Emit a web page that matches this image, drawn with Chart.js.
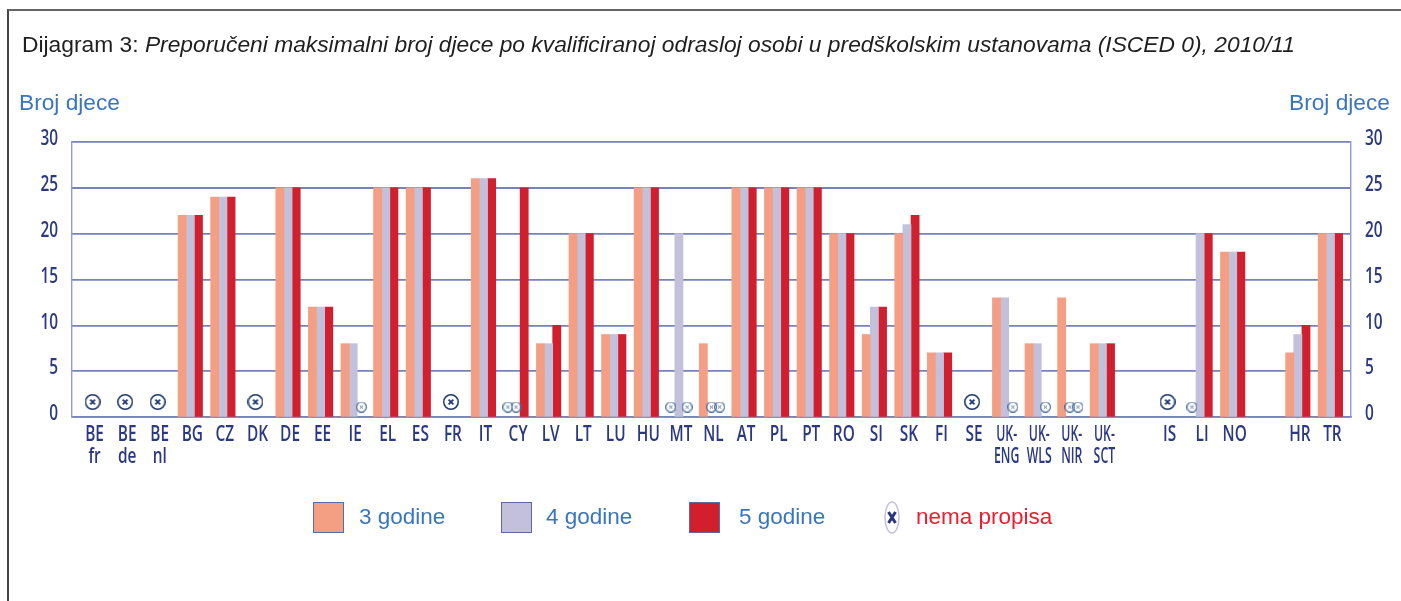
<!DOCTYPE html>
<html>
<head>
  <meta charset="UTF-8" />
  <title>Dijagram 3</title>
  <script src="https://cdn.jsdelivr.net/npm/chart.js"></script>
  <style>
    html, body { margin: 0; padding: 0; background: #fff; overflow: hidden; }
    #wrap { position: relative; width: 1401px; height: 601px; font-family: "Liberation Sans", Arial, sans-serif; }
    #frame { position: absolute; left: 7px; top: 9px; width: 1394px; height: 592px; border-left: 2px solid #444; border-top: 2px solid #666; box-sizing: border-box; }
    #chart { position: absolute; left: 0; top: 0; }
    .txt { position: absolute; white-space: nowrap; }
    #title { left: 22px; top: 31px; font-size: 22.8px; color: #1f1f1f; }
    .axis-name { top: 89px; font-size: 22.7px; color: #3a75bd; }
    .swatch { position: absolute; top: 502px; width: 29px; height: 29px; border: 1px solid #5b6aa5; }
    .leg { top: 504px; font-size: 22.5px; color: #3a75bd; }
  </style>
</head>
<body>
<div id="wrap">
  <div id="frame"></div>
  <canvas id="chart" width="1401" height="601"></canvas>
  <div class="txt" id="title">Dijagram 3: <i>Preporučeni maksimalni broj djece po kvalificiranoj odrasloj osobi u predškolskim ustanovama (ISCED 0), 2010/11</i></div>
  <div class="txt axis-name" style="left:19px">Broj djece</div>
  <div class="txt axis-name" style="left:1289px">Broj djece</div>

  <div class="swatch" style="left:313px;background:#f49f84"></div>
  <div class="txt leg" style="left:359px">3 godine</div>
  <div class="swatch" style="left:501px;background:#c3c0dc"></div>
  <div class="txt leg" style="left:546px">4 godine</div>
  <div class="swatch" style="left:689px;background:#d21f2e"></div>
  <div class="txt leg" style="left:739px">5 godine</div>
  <svg style="position:absolute;left:884px;top:501px" width="16" height="33">
    <ellipse cx="8" cy="16.5" rx="7" ry="15.5" fill="#fff" stroke="#c3c0dc" stroke-width="1.5"/>
    <path d="M4.5 11 L11.5 22 M11.5 11 L4.5 22" stroke="#26377f" stroke-width="3"/>
  </svg>
  <div class="txt leg" style="left:916px;color:#ee1c2e">nema propisa</div>
</div>

<script>
  // one slot per label, empty slots are the gaps before IS and HR
  const slotLabels = [
    ['BE', 'fr'], ['BE', 'de'], ['BE', 'nl'], 'BG', 'CZ', 'DK', 'DE', 'EE', 'IE', 'EL', 'ES', 'FR', 'IT',
    'CY', 'LV', 'LT', 'LU', 'HU', 'MT', 'NL', 'AT', 'PL', 'PT', 'RO', 'SI', 'SK', 'FI', 'SE',
    ['UK-', 'ENG'], ['UK-', 'WLS'], ['UK-', 'NIR'], ['UK-', 'SCT'], '', 'IS', 'LI', 'NO', '', 'HR', 'TR'
  ];
  const tightLabels = ['UK-', 'ENG', 'WLS', 'NIR', 'SCT'];
  const yTicks = [0, 5, 10, 15, 20, 25, 30];

  const age3 = [null, null, null, 22, 24, null, 25, 12, 8, 25, 25, null, 26,
    null, 8, 20, 9, 25, null, 8, 25, 25, 25, 20, 9, 20, 7, null,
    13, 8, 13, 8, null, null, null, 18, null, 7, 20];
  const age4 = [null, null, null, 22, 24, null, 25, 12, 8, 25, 25, null, 26,
    null, 8, 20, 9, 25, 20, null, 25, 25, 25, 20, 12, 21, 7, null,
    13, 8, null, 8, null, null, 20, 18, null, 9, 20];
  const age5 = [null, null, null, 22, 24, null, 25, 12, null, 25, 25, null, 26,
    25, 10, 20, 9, 25, null, null, 25, 25, 25, 20, 12, 22, 7, null,
    null, null, null, 8, null, null, 20, 18, null, 10, 20];

  // "nema propisa": whole country (big mark), or one age only (small mark above that bar)
  const noRuleAll = [0, 1, 2, 5, 11, 27, 33];
  const noRule3 = [13, 18, 34];
  const noRule4 = [13, 19, 30];
  const noRule5 = [8, 18, 19, 28, 29, 30];

  const BAR_W = 8.15;
  const SLOT_W = 32.58;
  const barShift = BAR_W / SLOT_W;

  function makeMark(size, color, lw, xw) {
    const c = document.createElement('canvas');
    c.width = c.height = size;
    const g = c.getContext('2d');
    const m = size / 2;
    g.strokeStyle = color;
    g.lineWidth = lw;
    g.beginPath();
    g.arc(m, m, m - lw / 2, 0, Math.PI * 2);
    g.stroke();
    const d = size * 0.15;
    g.lineWidth = xw;
    g.beginPath();
    g.moveTo(m - d, m - d); g.lineTo(m + d, m + d);
    g.moveTo(m + d, m - d); g.lineTo(m - d, m + d);
    g.stroke();
    return c;
  }

  const toBars = arr => arr.map((v, i) => ({ x: i, y: v }));
  const toMarks = (arr, shift, y) => arr.map(i => ({ x: i + shift, y: y }));

  function markSet(data, img) {
    return { type: 'scatter', data: data, pointStyle: img, pointRadius: 8, showLine: false, order: 0 };
  }

  const bigMark = makeMark(16, '#1d3a6e', 1.5, 1.8);
  const smallMark = makeMark(11, '#4a6f9e', 1.1, 1);

  // no condensed font is installed, so canvas text is squeezed sideways while the chart draws
  const condensed = {
    id: 'condensed',
    beforeDraw(chart) {
      const ctx = chart.ctx;
      const fill = CanvasRenderingContext2D.prototype.fillText;
      ctx.fillText = function (t, x, y) {
        const k = tightLabels.includes(t) ? 0.56 : 0.7;
        fill.call(ctx, t, x, y, ctx.measureText(t).width * k);
      };
    },
    afterDraw(chart) {
      delete chart.ctx.fillText;
    }
  };

  const fixWidth = w => scale => { scale.width = w; };
  const tickFont = { family: '"Open Sans", sans-serif', size: 22, weight: '600', lineHeight: 1 };
  const yGrid = {
    color: '#7484bb',
    lineWidth: c => (c.tick && c.tick.value === 25 ? 2 : 1.4),
    drawTicks: false
  };
  const yOpts = {
    min: 0, max: 30,
    afterBuildTicks: s => { s.ticks = yTicks.map(v => ({ value: v })); },
    grid: yGrid,
    border: { color: '#8e9ac8', width: 1.4 },
    ticks: { color: '#2b3a80', font: tickFont, padding: 14, labelOffset: -3 }
  };

  new Chart(document.getElementById('chart').getContext('2d'), {
    type: 'bar',
    plugins: [condensed],
    data: {
      datasets: [
        { label: '3 godine', data: toBars(age3), backgroundColor: '#f49f84', order: 1 },
        { label: '4 godine', data: toBars(age4), backgroundColor: '#c3c0dc', order: 1 },
        { label: '5 godine', data: toBars(age5), backgroundColor: '#d21f2e', order: 1 },
        markSet(toMarks(noRuleAll, 0, 1.64), bigMark),
        markSet(toMarks(noRule3, -barShift, 1.09), smallMark),
        markSet(toMarks(noRule4, 0, 1.09), smallMark),
        markSet(toMarks(noRule5, barShift, 1.09), smallMark)
      ]
    },
    options: {
      responsive: false,
      animation: false,
      barThickness: BAR_W,
      layout: { padding: { top: 142 } },
      plugins: { legend: { display: false }, tooltip: { enabled: false } },
      scales: {
        x: {
          type: 'linear',
          offset: false,
          min: -0.632,
          max: 38.632,
          afterBuildTicks: s => { s.ticks = slotLabels.map((l, i) => ({ value: i })); },
          afterFit: s => { s.height = 184; },
          grid: { display: false, drawTicks: false, offset: false },
          border: { color: '#7484bb', width: 1.6 },
          ticks: {
            color: '#2b3a80', font: tickFont, padding: 7, labelOffset: 2,
            autoSkip: false, maxRotation: 0, minRotation: 0,
            callback: v => slotLabels[v]
          }
        },
        y: Object.assign({}, yOpts, { position: 'left', afterFit: fixWidth(72) }),
        y2: Object.assign({}, yOpts, { position: 'right', afterFit: fixWidth(50) })
      }
    }
  });
</script>
</body>
</html>
